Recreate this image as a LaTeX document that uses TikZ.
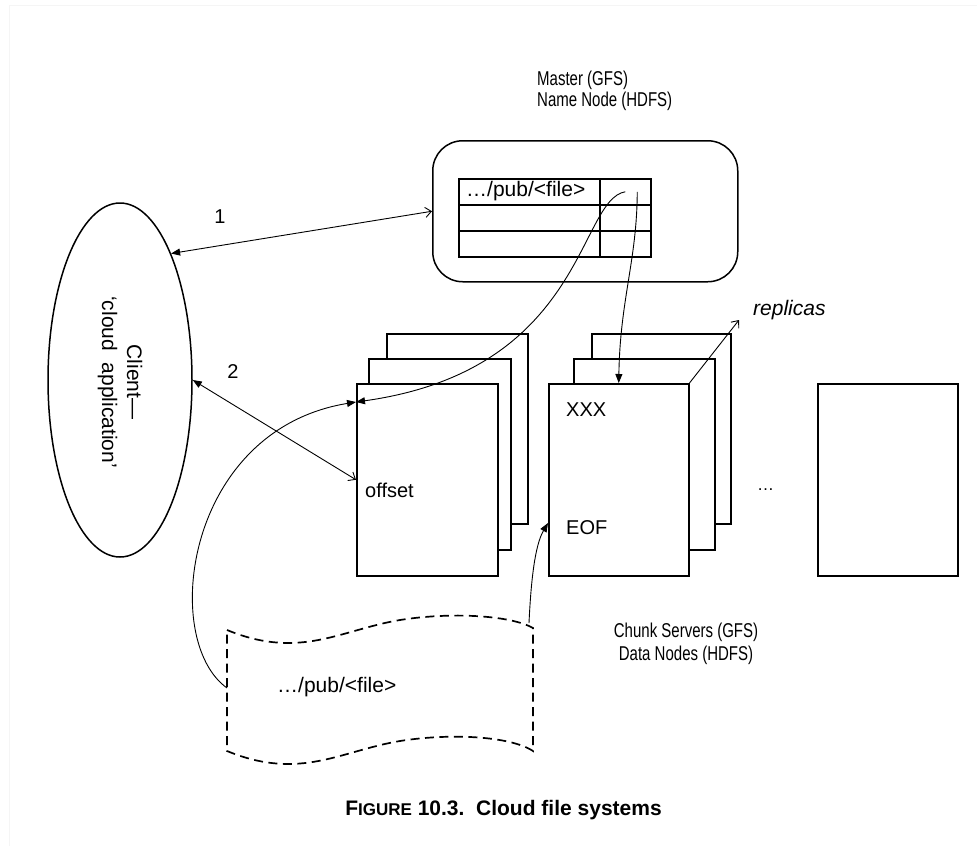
\documentclass[tikz,border=0pt]{standalone}
\usepackage{fontspec}
\usepackage{graphicx}
\setmainfont{Liberation Sans}
\usetikzlibrary{shapes.geometric,arrows.meta}
\newcommand{\cond}[1]{\scalebox{0.75}[1]{#1}}
\begin{document}
\begin{tikzpicture}[x=1pt,y=-1pt,
  box/.style={draw, line width=1.5pt, fill=white, inner sep=0pt, anchor=north west},
  lbl/.style={font=\fontsize{20}{24}\selectfont, inner sep=0pt},
  thin/.style={line width=0.9pt},
  fil/.style={-{Triangle[length=9pt,width=7pt]}},
  opn/.style={-{Straight Barb[length=6pt,width=10pt]}},
  both/.style={{Triangle[length=9pt,width=7pt]}-{Straight Barb[length=6pt,width=10pt]}},
  docline/.style={line width=1.7pt, dash pattern=on 9pt off 5.5pt}
]
\useasboundingbox (0,0) rectangle (977,846);
\draw[gray!8, line width=1pt] (977,5) -- (9,5) -- (9,846);

% master
\node[lbl, anchor=west, align=left, font=\fontsize{20}{21}\selectfont] (mlabel) at (537,91) {\cond{Master (GFS)}\\\cond{Name Node (HDFS)}};
\node[draw, line width=1.5pt, rounded corners=30pt, minimum width=305pt, minimum height=141pt, anchor=north west, inner sep=0pt] (master) at (432,140) {};
\node[box, minimum width=141pt, minimum height=26pt] (c11) at (458,178) {};
\node[box, minimum width=51pt, minimum height=26pt] (c12) at (599,178) {};
\node[box, minimum width=141pt, minimum height=26pt] (c21) at (458,204) {};
\node[box, minimum width=51pt, minimum height=26pt] (c22) at (599,204) {};
\node[box, minimum width=141pt, minimum height=26pt] (c31) at (458,230) {};
\node[box, minimum width=51pt, minimum height=26pt] (c32) at (599,230) {};
\node[lbl, anchor=west, font=\fontsize{21}{24}\selectfont] (tabtxt) at (466,191) {…/pub/<file>};

% client
\node[draw, ellipse, line width=1.5pt, minimum width=144pt, minimum height=354pt, inner sep=0pt] (client) at (120,380) {};
\node[lbl, rotate=-90, align=center, font=\fontsize{21}{25}\selectfont] (clienttxt) at (120,382) {Client—\\‘cloud\ \ application’};

% chunk stacks
\node[box, minimum width=141pt, minimum height=190pt] (c1b) at (386,333) {};
\node[box, minimum width=142pt, minimum height=191pt] (c1m) at (368,358) {};
\node[box, minimum width=141pt, minimum height=192pt] (c1f) at (356,383) {};
\node[box, minimum width=139pt, minimum height=190pt] (c2b) at (591,333) {};
\node[box, minimum width=141pt, minimum height=191pt] (c2m) at (573,358) {};
\node[box, minimum width=140pt, minimum height=192pt] (c2f) at (548,383) {};
\node[box, minimum width=140pt, minimum height=192pt] (c3) at (817,383) {};

\node[lbl, anchor=west] (offset) at (365,490) {offset};
\node[lbl, anchor=west] (xxx) at (566,410) {XXX};
\node[lbl, anchor=west] (eof) at (566,528) {EOF};
\node[lbl, anchor=west, font=\fontsize{17}{20}\selectfont] (dots) at (757,490) {…};
\node[lbl, anchor=west, font=\itshape\fontsize{21}{24}\selectfont] (replicas) at (753,310) {replicas};
\coordinate (reptip) at (739,320);
\node[lbl, align=center, font=\fontsize{20}{23}\selectfont] (chunklbl) at (686,644) {\cond{Chunk Servers (GFS)}\\\cond{Data Nodes (HDFS)}};

\node[lbl] (n1) at (220,217) {1};
\node[lbl] (n2) at (233,372) {2};

% dashed document
\draw[docline] (227,630) .. controls (300,660) and (340,630) .. (400,620) .. controls (450,612) and (510,615) .. (533,628) -- (533,751) .. controls (510,736) and (450,733) .. (400,741) .. controls (340,751) and (300,781) .. (227,751) -- cycle;
\coordinate (docL) at (227,688);
\coordinate (docTR) at (529,623);
\node[lbl, anchor=west, font=\fontsize{21}{24}\selectfont] (doctxt) at (277,687) {…/pub/<file>};

% connectors
\draw[thin, both] (client.68) -- (master.west);
\draw[thin, both] (client.east) -- (c1f.west);
\draw[thin, fil] (c12.center) .. controls (578,200) and (585,370) .. ([yshift=-19pt]c1f.north west);
\draw[thin, fil] ([xshift=12pt]c12.center) .. controls (637,260) and (620,300) .. (c2f.north);
\draw[thin, fil] (docL) .. controls (160,640) and (185,430) .. ([yshift=-19pt]c1f.north west);
\draw[thin, fil] (docTR) .. controls (531,580) and (535,545) .. ([yshift=-140pt]c2f.north west);
\draw[thin, opn] (c2f.north east) -- (reptip);

% caption
\node[font=\bfseries, inner sep=0pt] (caption) at (503.5,810) {{\fontsize{21}{26}\selectfont F}{\fontsize{17}{26}\selectfont IGURE}{\fontsize{21}{26}\selectfont\ 10.3.\ \ Cloud file systems}};
\end{tikzpicture}
\end{document}
